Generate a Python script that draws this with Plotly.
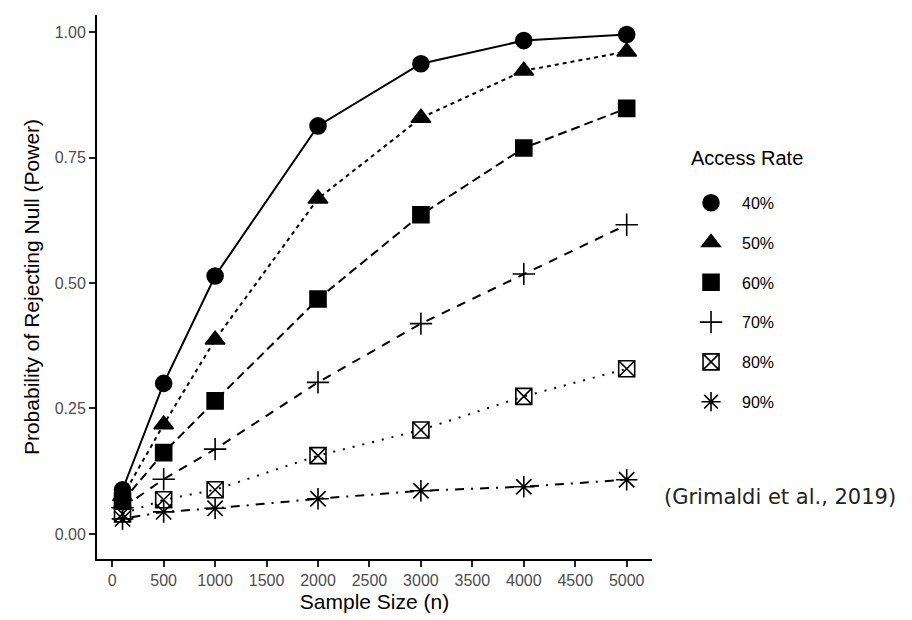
import plotly.graph_objects as go

# Simulated power by sample size for each access rate
sample_size = [100, 500, 1000, 2000, 3000, 4000, 5000]
access_rates = ["40%", "50%", "60%", "70%", "80%", "90%"]

power_40 = [0.088, 0.300, 0.514, 0.813, 0.937, 0.983, 0.995]
power_50 = [0.075, 0.218, 0.387, 0.668, 0.829, 0.923, 0.961]
power_60 = [0.065, 0.162, 0.265, 0.468, 0.636, 0.769, 0.848]
power_70 = [0.052, 0.109, 0.169, 0.302, 0.419, 0.518, 0.616]
power_80 = [0.040, 0.068, 0.088, 0.156, 0.207, 0.274, 0.329]
power_90 = [0.030, 0.044, 0.051, 0.070, 0.086, 0.094, 0.108]

x_ticks = [0, 500, 1000, 1500, 2000, 2500, 3000, 3500, 4000, 4500, 5000]
y_ticks = [0.0, 0.25, 0.50, 0.75, 1.00]

series = [power_40, power_50, power_60, power_70, power_80, power_90]

# ggplot-like shape / linetype mapping
symbols = ["circle", "triangle-up", "square", "cross-thin-open", "square-x-open", "asterisk-open"]
sizes = [16, 17, 16, 16, 16, 18]
dashes = ["solid", "4px,4px", "9px,5px", "9px,8px", "2px,8px", "2px,7px,9px,7px"]

fig = go.Figure()
for name, vals, sym, sz, dash in zip(access_rates, series, symbols, sizes, dashes):
    fig.add_trace(go.Scatter(
        x=sample_size, y=vals, mode="lines+markers", name=name,
        legendgroup=name, showlegend=False,
        line=dict(color="black", width=2, dash=dash),
        marker=dict(symbol=sym, size=sz, color="black",
                    line=dict(color="black", width=1.6)),
    ))
# marker-only legend keys
for name, sym, sz in zip(access_rates, symbols, sizes):
    fig.add_trace(go.Scatter(
        x=[None], y=[None], mode="markers", name=name, legendgroup=name,
        marker=dict(symbol=sym, size=sz, color="black",
                    line=dict(color="black", width=1.6)),
    ))

axis_font = dict(family="Liberation Sans, Arial, sans-serif", size=21, color="black")
tick_font = dict(family="Liberation Sans, Arial, sans-serif", size=16, color="#4D4D4D")

fig.update_layout(
    width=912, height=620,
    margin=dict(l=97, r=260, t=15, b=61),
    paper_bgcolor="white", plot_bgcolor="white",
    font=dict(family="Liberation Sans, Arial, sans-serif", color="black"),
    xaxis=dict(
        range=[-148, 5246], tickvals=x_ticks, ticks="outside", ticklen=6, tickwidth=1.6,
        tickcolor="#222", showline=True, linecolor="black", linewidth=2,
        showgrid=False, zeroline=False, tickfont=tick_font, automargin=False,
        title=dict(text="Sample Size (n)", font=axis_font, standoff=6),
    ),
    yaxis=dict(
        range=[-0.05, 1.034], tickvals=y_ticks, tickformat=".2f", ticks="outside",
        ticklen=6, tickwidth=1.6, tickcolor="#222", showline=True, linecolor="black",
        linewidth=2, showgrid=False, zeroline=False, tickfont=tick_font, automargin=False,
        title=dict(text="Probability of Rejecting Null (Power)", font=axis_font, standoff=9),
    ),
    legend=dict(
        x=1.0505, xanchor="left", y=0.686, yanchor="top",
        font=dict(size=16, color="black"), tracegroupgap=16, itemwidth=52,
        bgcolor="rgba(0,0,0,0)",
    ),
    annotations=[
        dict(
            text="Access Rate", xref="paper", yref="paper",
            x=1.066, y=0.738, xanchor="left", yanchor="middle", showarrow=False,
            font=dict(size=20, color="black"),
        ),
        dict(
            text="(Grimaldi et al., 2019)", xref="paper", yref="paper",
            x=1.018, y=0.114, xanchor="left", yanchor="middle", showarrow=False,
            font=dict(family="DejaVu Sans, sans-serif", size=21, color="#222"),
        ),
    ],
)

fig.write_html("out.html")
